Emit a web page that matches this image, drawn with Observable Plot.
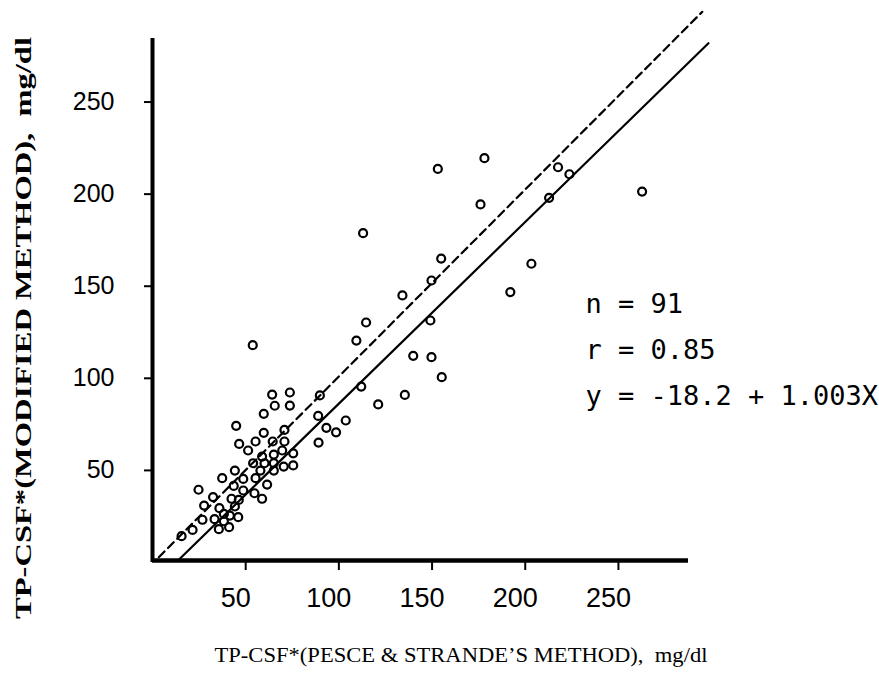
<!DOCTYPE html>
<html>
<head>
<meta charset="utf-8">
<script src="https://cdn.jsdelivr.net/npm/d3@7"></script>
<script src="https://cdn.jsdelivr.net/npm/@observablehq/plot@0.6"></script>
<style>
  html, body { margin: 0; padding: 0; background: #fff; }
  svg { display: block; }
</style>
</head>
<body>
<div id="chart"></div>
<script>
// TP-CSF by Pesce & Strande's method (x) vs modified method (y), mg/dl
const pesce = [
  153.1, 178.1, 217.6, 223.7, 262.7, 176.0, 212.8, 113.0, 154.9, 203.3,
  149.7, 192.0, 134.1, 114.6, 109.4, 149.1, 139.9, 149.7, 155.2, 112.0,
  121.1, 135.4, 89.8, 88.9, 103.7, 93.3, 98.5, 89.1, 73.7, 73.7,
  70.8, 70.8, 69.6, 75.5,
  53.8, 64.2, 65.6, 59.7, 44.9, 59.7, 46.5, 55.3, 64.5, 51.3,
  65.1, 58.8, 54.0, 60.1, 65.1, 75.5, 70.4, 57.9, 65.1, 44.2,
  48.7, 55.3, 37.4, 43.6, 48.7, 61.5, 54.7, 58.8, 32.5, 24.7,
  42.4, 46.3, 27.7, 35.9, 44.2, 38.3, 41.5, 46.0, 33.3, 26.8,
  38.3, 35.6, 41.1, 21.5, 15.6
];
const modified = [
  213.7, 219.5, 214.6, 210.8, 201.4, 194.4, 198.0, 178.8, 165.0, 162.2,
  153.1, 146.8, 145.0, 130.3, 120.5, 131.4, 112.2, 111.5, 100.6, 95.5,
  85.8, 91.0, 90.7, 79.6, 77.1, 73.1, 70.7, 65.1, 92.3, 85.2,
  72.0, 65.7, 60.8, 59.3,
  118.0, 91.2, 85.1, 80.7, 74.2, 70.4, 64.4, 65.7, 65.7, 60.8,
  58.6, 57.5, 53.9, 53.9, 53.9, 52.7, 52.1, 49.9, 49.9, 49.9,
  45.4, 45.8, 45.8, 41.6, 39.1, 42.3, 37.6, 34.6, 35.5, 39.5,
  34.6, 34.0, 30.9, 29.5, 30.4, 26.4, 25.5, 24.6, 23.5, 23.2,
  22.4, 18.1, 19.2, 17.7, 14.3
];

// Line of identity (dashed) and regression line (solid), end points as drawn
const identityX = [3.4, 295.0];
const identityY = [2.9, 299.0];
const fitX = [14.1, 298.3];
const fitY = [1.5, 281.9];

const xTicks = [50, 100, 150, 200, 250];
const yTicks = [50, 100, 150, 200, 250];
const xDomain = [0, 287.6];
const yDomain = [0, 284.5];

const statLines = ["n = 91", "r = 0.85", "y = -18.2 + 1.003X"];
const xTitle = "TP-CSF*(PESCE & STRANDE\u2019S METHOD),  mg/dl";
const yTitle = "TP-CSF*(MODIFIED METHOD),  mg/dl";

const points = pesce.map((x, i) => ({x, y: modified[i]}));
const identity = identityX.map((x, i) => ({x, y: identityY[i]}));
const fit = fitX.map((x, i) => ({x, y: fitY[i]}));

const W = 879, H = 681;
const plot = Plot.plot({
  width: W,
  height: H,
  marginLeft: 152,
  marginRight: 191,
  marginTop: 38,
  marginBottom: 119,
  x: {domain: xDomain, axis: null},
  y: {domain: yDomain, axis: null},
  style: {fontFamily: "'Liberation Sans', Arial, sans-serif", color: "#000", background: "#fff", overflow: "visible"},
  marks: [
    Plot.line(identity, {x: "x", y: "y", stroke: "#000", strokeWidth: 2.2, strokeDasharray: "8,5"}),
    Plot.line(fit, {x: "x", y: "y", stroke: "#000", strokeWidth: 2.2}),
    Plot.dot(points, {x: "x", y: "y", r: 4, stroke: "#000", strokeWidth: 2.2, fill: "none"}),
    Plot.ruleY([0], {x1: xDomain[0], x2: xDomain[1], stroke: "#000", strokeWidth: 4.5, dy: -2}),
    Plot.ruleX([0], {y1: yDomain[0], y2: yDomain[1], stroke: "#000", strokeWidth: 4}),
    Plot.axisX({ticks: xTicks, tickSize: 8, tickFormat: () => "", label: null, strokeWidth: 2, stroke: "#000"}),
    Plot.axisX({ticks: xTicks, tickSize: 0, tickPadding: 25, dx: -10, fontSize: 27, label: null, fill: "#000"}),
    Plot.axisY({ticks: yTicks, tickSize: 8, tickPadding: 30, fontSize: 25, label: null, strokeWidth: 2, stroke: "#000", fill: "#000"}),
    Plot.text([statLines.join("\n")], {
      text: d => d,
      frameAnchor: "top-left",
      dx: 433,
      dy: 242,
      lineAnchor: "top",
      textAnchor: "start",
      lineHeight: 1.7,
      fontSize: 27,
      fontFamily: "'DejaVu Sans Mono', monospace",
      fill: "#000"
    })
  ]
});

const svg = d3.select(plot);
svg.append("text")
  .attr("transform", "translate(31,328) rotate(-90)")
  .attr("text-anchor", "middle")
  .attr("font-family", "'Liberation Serif', 'Times New Roman', serif")
  .attr("font-size", 24)
  .attr("font-weight", "bold")
  .attr("fill", "#000")
  .attr("textLength", 582)
  .attr("lengthAdjust", "spacingAndGlyphs")
  .text(yTitle);
svg.append("text")
  .attr("x", 461)
  .attr("y", 662)
  .attr("text-anchor", "middle")
  .attr("font-family", "'Liberation Serif', 'Times New Roman', serif")
  .attr("font-size", 22)
  .attr("fill", "#000")
  .attr("textLength", 493)
  .attr("lengthAdjust", "spacingAndGlyphs")
  .text(xTitle);

document.getElementById("chart").appendChild(plot);
</script>
</body>
</html>
